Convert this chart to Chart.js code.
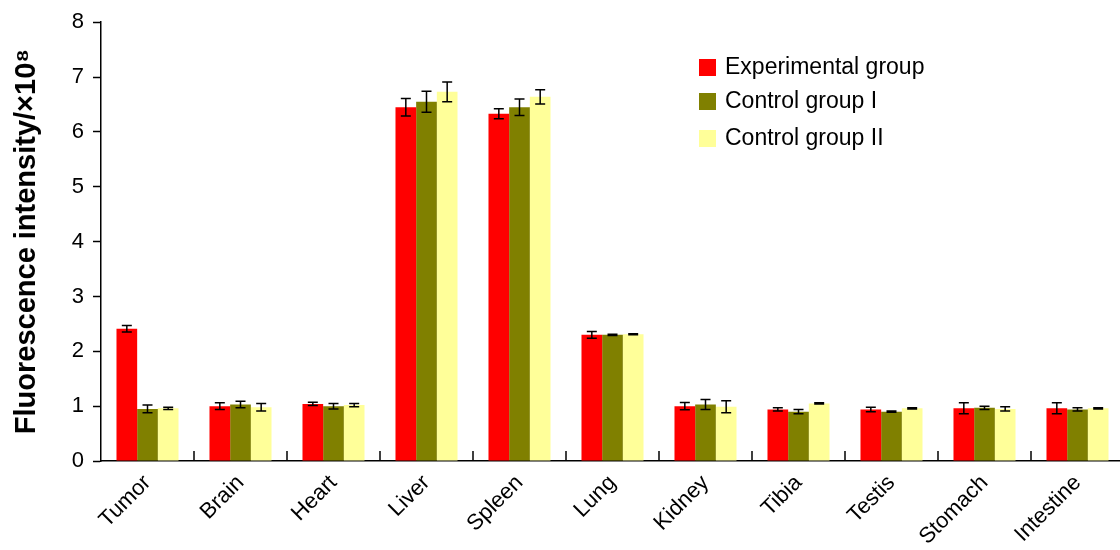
<!DOCTYPE html>
<html>
<head>
<meta charset="utf-8">
<script src="https://cdn.jsdelivr.net/npm/chart.js@4"></script>
<style>
  html, body { margin: 0; padding: 0; background: #fff; overflow: hidden; }
  #wrap { width: 1124px; height: 550px; }
</style>
</head>
<body>
<div id="wrap"><canvas id="myChart" width="1124" height="550"></canvas></div>
<script>
const organs = ["Tumor", "Brain", "Heart", "Liver", "Spleen", "Lung", "Kidney", "Tibia", "Testis", "Stomach", "Intestine"];

const experimental = [2.41, 1.0, 1.04, 6.45, 6.33, 2.3, 1.0, 0.94, 0.94, 0.96, 0.96];
const experimentalErr = [0.06, 0.06, 0.03, 0.16, 0.09, 0.06, 0.065, 0.03, 0.04, 0.1, 0.1];

const control1 = [0.95, 1.03, 1.0, 6.55, 6.45, 2.3, 1.03, 0.9, 0.9, 0.97, 0.94];
const control1Err = [0.07, 0.06, 0.05, 0.19, 0.15, 0.01, 0.09, 0.04, 0.01, 0.03, 0.03];

const control2 = [0.96, 0.98, 1.02, 6.73, 6.64, 2.31, 0.99, 1.05, 0.96, 0.95, 0.96];
const control2Err = [0.02, 0.07, 0.03, 0.18, 0.13, 0.01, 0.11, 0.01, 0.01, 0.04, 0.01];

const yTicks = [0, 1, 2, 3, 4, 5, 6, 7, 8];

const font = "Liberation Sans, Arial, sans-serif";

// error bars, drawn from the y scale
const errorBars = {
  id: "errorBars",
  afterDatasetsDraw(chart) {
    const ctx = chart.ctx;
    const y = chart.scales.y;
    ctx.save();
    ctx.strokeStyle = "#000";
    ctx.lineWidth = 1.5;
    chart.data.datasets.forEach((ds, i) => {
      const meta = chart.getDatasetMeta(i);
      meta.data.forEach((bar, j) => {
        const v = ds.data[j], e = ds.err[j];
        const top = y.getPixelForValue(v + e);
        const bot = y.getPixelForValue(v - e);
        ctx.beginPath();
        ctx.moveTo(bar.x, top); ctx.lineTo(bar.x, bot);
        ctx.moveTo(bar.x - 5, top); ctx.lineTo(bar.x + 5, top);
        ctx.moveTo(bar.x - 5, bot); ctx.lineTo(bar.x + 5, bot);
        ctx.stroke();
      });
    });
    ctx.restore();
  }
};

// small ticks pointing up between the categories
const innerTicks = {
  id: "innerTicks",
  afterDraw(chart) {
    const ctx = chart.ctx;
    const x = chart.scales.x;
    const bottom = chart.chartArea.bottom;
    ctx.save();
    ctx.strokeStyle = "#000";
    ctx.lineWidth = 1.5;
    for (let i = 0; i < organs.length - 1; i++) {
      const px = (x.getPixelForValue(i) + x.getPixelForValue(i + 1)) / 2;
      ctx.beginPath();
      ctx.moveTo(px, bottom);
      ctx.lineTo(px, bottom - 10);
      ctx.stroke();
    }
    ctx.restore();
  }
};

// legend inside the plot
const insideLegend = {
  id: "insideLegend",
  afterDraw(chart) {
    const ctx = chart.ctx;
    const rows = [67, 101, 138];
    ctx.save();
    ctx.font = "23px " + font;
    ctx.textBaseline = "middle";
    chart.data.datasets.forEach((ds, i) => {
      ctx.fillStyle = ds.backgroundColor;
      ctx.fillRect(699, rows[i] - 8, 17, 17);
      ctx.fillStyle = "#000";
      ctx.fillText(ds.label, 725, rows[i] + 1);
    });
    ctx.restore();
  }
};

new Chart(document.getElementById("myChart"), {
  type: "bar",
  data: {
    labels: organs,
    datasets: [
      { label: "Experimental group", data: experimental, err: experimentalErr, backgroundColor: "#ff0000" },
      { label: "Control group I", data: control1, err: control1Err, backgroundColor: "#808000" },
      { label: "Control group II", data: control2, err: control2Err, backgroundColor: "#ffff99" },
    ],
  },
  options: {
    responsive: false,
    animation: false,
    devicePixelRatio: 1,
    layout: { padding: { top: 21, right: 0, bottom: 0, left: 0 } },
    datasets: { bar: { categoryPercentage: 0.667, barPercentage: 1.0, borderWidth: 0 } },
    plugins: { legend: { display: false }, tooltip: { enabled: false } },
    scales: {
      x: {
        grid: { display: false },
        border: { display: true, color: "#000", width: 1.5 },
        ticks: {
          color: "#000",
          font: { family: font, size: 22 },
          minRotation: 45,
          maxRotation: 45,
          padding: 1,
        },
        afterFit(scale) { scale.height = 89; },
      },
      y: {
        min: 0,
        max: 8,
        afterBuildTicks(scale) { scale.ticks = yTicks.map(v => ({ value: v })); },
        grid: { drawOnChartArea: false, drawTicks: true, tickLength: 8, tickColor: "#000", tickWidth: 1.5 },
        border: { display: true, color: "#000", width: 1.5 },
        ticks: { color: "#000", font: { family: font, size: 22 }, padding: 9 },
        title: {
          display: true,
          text: "Fluorescence intensity/×10⁸",
          color: "#000",
          font: { family: font, size: 29, weight: "bold" },
          padding: { top: 10, bottom: 0 },
        },
        afterFit(scale) { scale.width = 101; },
      },
    },
  },
  plugins: [errorBars, innerTicks, insideLegend],
});
</script>
</body>
</html>
